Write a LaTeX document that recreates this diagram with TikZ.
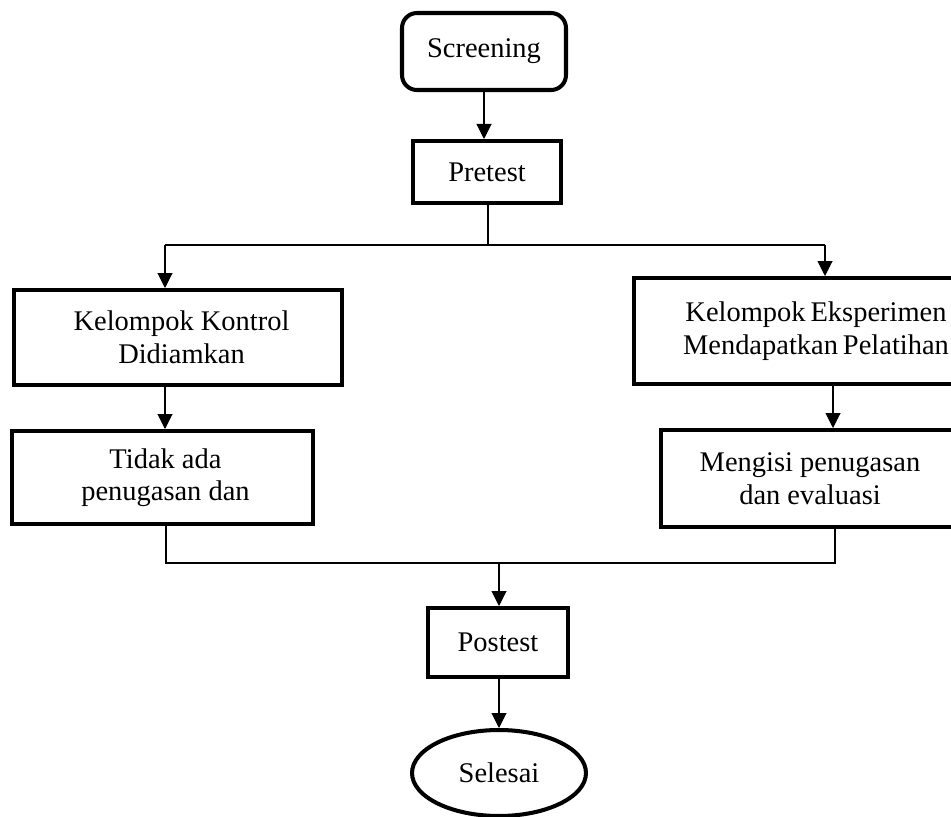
\documentclass[tikz,border=0pt]{standalone}
\usepackage{fontspec}
\setmainfont{Liberation Serif}
\usetikzlibrary{arrows.meta,shapes.geometric}

\tikzset{
    box/.style={draw, line width=2.3pt, align=center, inner sep=0pt,
        font=\fontsize{16.2}{18.5}\selectfont},
    arr/.style={-{Triangle[length=0.3cm,width=0.3cm]}, line width=0.6pt},
    line/.style={line width=0.6pt}
}

\begin{document}
\begin{tikzpicture}[x=0.02cm, y=-0.02cm]
        \useasboundingbox (0,0) rectangle (951,816);
        \clip (0,0) rectangle (951,816);
        \node [box, rounded corners=0.3cm, minimum width=3.28cm, minimum height=1.54cm] (screen) at (484, 51.5) {Screening};
        \node [box, minimum width=2.96cm, minimum height=1.24cm] (pretest) at (487, 172) {Pretest};
        \node [box, minimum width=6.56cm, minimum height=1.9cm] (kontrol) at (178, 337.5) {\hspace*{0.14cm}Kelompok Kontrol\\\hspace*{0.14cm}Didiamkan};
        \node [box, minimum width=7.28cm, minimum height=2.12cm] (eksp) at (816, 331) {Kelompok\hspace{0.1cm}Eksperimen\\Mendapatkan\hspace{0.1cm}Pelatihan};
        \node [box, minimum width=6.02cm, minimum height=1.86cm] (tidak) at (162.5, 477.5) {\hspace*{0.12cm}Tidak ada\\\hspace*{0.12cm}penugasan dan};
        \node [box, minimum width=5.96cm, minimum height=1.94cm] (mengisi) at (810, 478.5) {Mengisi penugasan\\dan evaluasi};
        \node [box, minimum width=2.8cm, minimum height=1.38cm] (postest) at (498, 642.5) {Postest};
        \node [box, ellipse, minimum width=3.48cm, minimum height=1.72cm] (selesai) at (499, 773) {Selesai};
        % split after pretest
        \coordinate (split) at (488, 245);
        \coordinate (kin) at (165, 245);
        \coordinate (ein) at (825, 245);
        \coordinate (kout) at (166, 563);
        \coordinate (eout) at (835, 563);
        \coordinate (merge) at (499, 563);
        \draw [arr] (screen.south) -- (screen.south |- pretest.north);
        \draw [line] (split |- pretest.south) -- (split);
        \draw [line] (kin) -- (ein);
        \draw [arr] (kin) -- (kin |- kontrol.north);
        \draw [arr] (ein) -- (ein |- eksp.north);
        \draw [arr] (kin |- kontrol.south) -- (kin |- tidak.north);
        \draw [arr] (833, 0 |- eksp.south) -- (833, 0 |- mengisi.north);
        % merge before postest
        \draw [line] (kout |- tidak.south) -- (kout) -- (eout) -- (eout |- mengisi.south);
        \draw [arr] (merge) -- (merge |- postest.north);
        \draw [arr] (merge |- postest.south) -- (merge |- selesai.north);
\end{tikzpicture}
\end{document}
